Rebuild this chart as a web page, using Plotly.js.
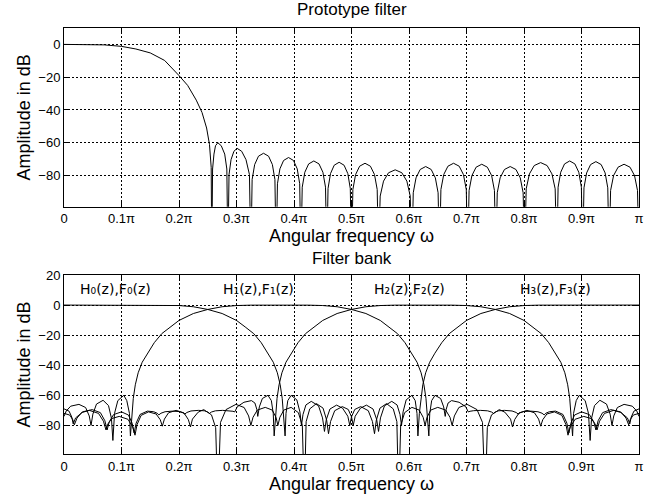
<!DOCTYPE html>
<html><head><meta charset="utf-8">
<script src="https://cdn.plot.ly/plotly-3.0.1.min.js"></script>
<style>html,body{margin:0;padding:0;background:#fff}#chart{width:666px;height:501px}</style>
</head><body><div id="chart"></div>
<script>
// x values are in units of pi (0 .. 1 means 0 .. pi)
const xTickVals = [0,0.1,0.2,0.3,0.4,0.5,0.6,0.7,0.8,0.9,1];
const xTickText = ['0','0.1\u03c0','0.2\u03c0','0.3\u03c0','0.4\u03c0','0.5\u03c0','0.6\u03c0','0.7\u03c0','0.8\u03c0','0.9\u03c0','\u03c0'];
const yTickValsTop = [-80,-60,-40,-20,0];
const yTickValsBank = [-80,-60,-40,-20,0,20];

// Prototype filter (top)
const protoX = [0,0.04,0.07,0.1,0.125,0.15,0.175,0.2,0.215,0.23,0.24,0.248,0.253,0.256,0.257,
0.2584,0.2608,0.2635,0.2675,0.2735,0.2795,0.2832,0.285,
0.287,0.2905,0.2955,0.301,0.309,0.3165,0.3225,0.325,
0.3272,0.3316,0.3382,0.347,0.3558,0.3624,0.3668,0.369,
0.3712,0.3755,0.3819,0.3905,0.3991,0.4056,0.4099,0.412,
0.4143,0.4188,0.4255,0.4345,0.4435,0.4503,0.4548,0.457,
0.4592,0.4635,0.4699,0.4785,0.4871,0.4936,0.4979,0.5,
0.5024,0.5071,0.5141,0.5235,0.5329,0.54,0.5447,0.547,
0.5499,0.5557,0.5644,0.576,0.5876,0.5963,0.6021,0.605,
0.6074,0.6122,0.6194,0.629,0.6386,0.6458,0.6506,0.653,
0.6555,0.6604,0.6677,0.6775,0.6873,0.6947,0.6996,0.702,
0.7045,0.7094,0.7167,0.7265,0.7363,0.7437,0.7486,0.751,
0.7535,0.7585,0.766,0.776,0.786,0.7935,0.7985,0.801,
0.8038,0.8094,0.8178,0.829,0.8402,0.8486,0.8542,0.857,
0.8593,0.8638,0.8705,0.8795,0.8885,0.8953,0.8998,0.902,
0.9043,0.9089,0.9158,0.925,0.9342,0.9411,0.9457,0.948,
0.9506,0.9558,0.9636,0.974,0.9844,0.9922,0.9974,1];
const protoY = [0,-0.05,-0.3,-1.2,-2.8,-5.2,-9.8,-19,-25,-34,-41.5,-51,-61,-75,-130,
-76,-66.9,-61.8,-60,-61.8,-66.9,-76,-130,
-79.4,-70.3,-65.2,-63.4,-65.2,-70.3,-79.4,-130,
-82.4,-73.3,-68.2,-66.4,-68.2,-73.3,-82.4,-130,
-85,-75.9,-70.8,-69,-70.8,-75.9,-85,-130,
-87.1,-78,-72.9,-71.1,-72.9,-78,-87.1,-130,
-87.9,-78.8,-73.7,-71.9,-73.7,-78.8,-87.9,-130,
-88.5,-79.4,-74.3,-72.5,-74.3,-79.4,-88.5,-130,
-92.5,-83.4,-78.3,-76.5,-78.3,-83.4,-92.5,-130,
-90.5,-81.4,-76.3,-74.5,-76.3,-81.4,-90.5,-130,
-88.5,-79.4,-74.3,-72.5,-74.3,-79.4,-88.5,-130,
-89.1,-80,-74.9,-73.1,-74.9,-80,-89.1,-130,
-90.5,-81.4,-76.3,-74.5,-76.3,-81.4,-90.5,-130,
-88.1,-79,-73.9,-72.1,-73.9,-79,-88.1,-130,
-87.1,-78,-72.9,-71.1,-72.9,-78,-87.1,-130,
-87.5,-78.4,-73.3,-71.5,-73.3,-78.4,-87.5,-130,
-89.1,-80,-74.9,-73.1,-74.9,-80,-89.1,-130];

// Filter bank (bottom): H0..H3
const h0X = [0,0.1,0.15,0.175,0.2,0.225,0.25,0.275,0.3,0.315,0.33,0.343,0.355,0.364,0.371,0.376,0.3795,0.382,0.3845,
0.3861,0.3892,0.395,0.4049,0.4103,0.413,
0.4156,0.4207,0.43,0.4427,0.4496,0.453,
0.4562,0.4625,0.474,0.4844,0.4936,0.497,
0.4999,0.5056,0.516,0.5292,0.5364,0.54,
0.5432,0.5495,0.561,0.5726,0.5789,0.582,
0.5855,0.5924,0.605,0.6177,0.6246,0.628,
0.6313,0.6379,0.65,0.6638,0.6713,0.675,
0.6789,0.6867,0.701,0.7183,0.7278,0.7325,
0.7362,0.7435,0.757,0.7667,0.7766,0.78,
0.7838,0.7913,0.805,0.8182,0.8254,0.829,
0.8326,0.8398,0.853,0.8659,0.873,0.8765,
0.8806,0.8889,0.904,0.9167,0.9236,0.927,
0.9314,0.94,0.956,0.9686,0.9798,0.984,
0.9864,0.9912,1];
const h0Y = [0,0,0,-0.05,-0.3,-1.1,-2.9,-5.6,-10.2,-14.5,-19,-25,-32,-38,-45,-53,-62,-72,-87,
-72,-63.5,-60,-63,-71,-80,
-72.8,-66.4,-64,-67,-75,-84,
-76.1,-69.1,-66.5,-68.5,-73.9,-80,
-74.4,-69.4,-67.5,-70.2,-77.4,-85.5,
-76.5,-68.5,-65.5,-69,-77.5,-130,
-80,-71.5,-68,-69.8,-74.6,-80,
-74.6,-69.8,-68,-69.8,-74.6,-80,
-73.7,-68.1,-66,-69.5,-78,-130,
-81.5,-73,-69.5,-71.2,-75.8,-81,
-76.1,-71.7,-70,-71.6,-75.8,-80.5,
-76.2,-72.4,-71,-73.3,-79.5,-86.5,
-80.9,-75.9,-74,-75.4,-79,-83,
-77.2,-72,-70,-71.4,-75,-79,
-74.5,-70.5,-69];

const h1X = [0,0.0039,0.0117,0.026,0.0376,0.0439,0.047,
0.0502,0.0565,0.068,0.0774,0.0825,0.085,
0.0879,0.0936,0.104,0.1092,0.1138,0.1155,
0.118,0.1205,0.124,0.129,0.136,0.145,0.157,0.17,0.185,0.2,0.225,0.25,0.275,0.3,0.325,0.35,0.4,0.425,0.45,0.475,0.5,0.525,0.55,0.565,0.58,0.593,0.605,0.614,0.621,0.626,0.6295,0.632,0.6345,
0.6361,0.6394,0.6453,0.655,0.6603,0.663,
0.6647,0.668,0.674,0.6871,0.6987,0.703,
0.7062,0.7125,0.724,0.7367,0.7436,0.747,
0.7499,0.7556,0.766,0.7792,0.7864,0.79,
0.7932,0.7995,0.811,0.8242,0.8314,0.835,
0.838,0.844,0.855,0.8677,0.8746,0.878,
0.8813,0.8879,0.9,0.9138,0.9213,0.925,
0.9289,0.9367,0.951,0.968,0.9774,0.982,
0.9847,0.9901,1];
const h1Y = [-74,-70.4,-67.2,-66,-68.1,-73.7,-80,
-72.5,-65.8,-63.3,-66.8,-75.3,-90,
-72,-63.5,-60,-63.5,-72,-87,
-72,-62,-53,-45,-38,-32,-25,-19,-14.5,-10.2,-5.6,-2.9,-1.1,-0.3,-0.05,0,0,-0.05,-0.3,-1.1,-2.9,-5.6,-10.2,-14.5,-19,-25,-32,-38,-45,-53,-62,-72,-87,
-72,-63.5,-60,-62.1,-67.7,-74,
-69.3,-65.1,-63.5,-64.6,-67.6,-71,
-70.6,-70.2,-70,-70.3,-71.1,-72,
-71.1,-70.3,-70,-70.4,-71.4,-72.5,
-71.6,-70.8,-70.5,-70.9,-71.9,-73,
-71.9,-70.9,-70.5,-72.7,-78.5,-85,
-78.7,-73.1,-71,-72.8,-77.6,-83,
-76.9,-71.5,-69.5,-71,-75.1,-79.6,
-76.2,-73.1,-72];

const h2X = [0,0.0099,0.0153,0.018,0.0226,0.032,0.049,0.0633,0.0711,0.075,
0.0787,0.0862,0.1,0.1121,0.1187,0.122,0.1254,0.1323,0.145,0.156,
0.162,0.165,0.1686,0.1758,0.189,0.2005,0.2068,0.21,0.2136,0.2208,
0.234,0.2444,0.2501,0.253,0.2564,0.2633,0.276,0.2875,0.2938,0.297,
0.3013,0.3129,0.326,0.332,0.3353,0.337,0.3397,0.345,0.3547,0.3606,
0.3639,0.3655,0.368,0.3705,0.374,0.379,0.386,0.395,0.407,0.42,
0.435,0.45,0.475,0.5,0.525,0.55,0.575,0.6,0.65,0.675,
0.7,0.725,0.75,0.775,0.8,0.815,0.83,0.843,0.855,0.864,
0.871,0.876,0.8795,0.882,0.8845,0.8862,0.8908,0.896,0.9064,0.9121,
0.915,0.9175,0.9226,0.932,0.9435,0.9498,0.953,0.9561,0.9624,0.974,
0.9883,0.9961,1];
const h2Y = [-72,-73.1,-76.2,-79.6,-75.1,-71,-69.5,-71.5,-76.9,-83,
-77.6,-72.8,-71,-73.1,-78.7,-85,-78.5,-72.7,-70.5,-70.9,
-71.9,-73,-71.9,-70.9,-70.5,-70.8,-71.6,-72.5,-71.4,-70.4,
-70,-70.3,-71.1,-72,-71.1,-70.3,-70,-70.2,-70.6,-71,
-67.6,-64.6,-63.5,-65.1,-69.3,-74,-67.7,-62.1,-60,-63.5,
-72,-87,-72,-62,-53,-45,-38,-32,-25,-19,
-14.5,-10.2,-5.6,-2.9,-1.1,-0.3,-0.05,0,0,-0.05,
-0.3,-1.1,-2.9,-5.6,-10.2,-14.5,-19,-25,-32,-38,
-45,-53,-62,-72,-87,-72,-63.5,-60,-63.5,-72,
-90,-75.3,-66.8,-63.3,-65.8,-72.5,-80,-73.7,-68.1,-66,
-67.2,-70.4,-74];

const h3X = [0,0.0088,0.0136,0.016,0.0202,0.0314,0.044,0.06,0.0686,0.073,
0.0764,0.0833,0.096,0.1111,0.1194,0.1235,0.127,0.1341,0.147,0.1602,
0.1674,0.171,0.1746,0.1818,0.195,0.2087,0.2162,0.22,0.2234,0.2333,
0.243,0.2565,0.2638,0.2675,0.2722,0.2817,0.299,0.3133,0.3211,0.325,
0.3287,0.3362,0.35,0.3621,0.3687,0.372,0.3754,0.3823,0.395,0.4076,
0.4145,0.418,0.4211,0.4274,0.439,0.4505,0.4568,0.46,0.4636,0.4708,
0.484,0.4944,0.5001,0.503,0.5064,0.5156,0.526,0.5375,0.5438,0.547,
0.5504,0.5573,0.57,0.5793,0.5844,0.587,0.5897,0.5951,0.605,0.6108,
0.6139,0.6155,0.618,0.6205,0.624,0.629,0.636,0.645,0.657,0.67,
0.685,0.7,0.725,0.75,0.775,0.8,0.825,0.85,0.9,1];
const h3Y = [-69,-70.5,-74.5,-79,-75,-71.4,-70,-72,-77.2,-83,
-79,-75.4,-74,-75.9,-80.9,-86.5,-79.5,-73.3,-71,-72.4,
-76.2,-80.5,-75.8,-71.6,-70,-71.7,-76.1,-81,-75.8,-71.2,
-69.5,-73,-81.5,-130,-78,-69.5,-66,-68.1,-73.7,-80,
-74.6,-69.8,-68,-69.8,-74.6,-80,-74.6,-69.8,-68,-71.5,
-80,-130,-77.5,-69,-65.5,-68.5,-76.5,-85.5,-77.4,-70.2,
-67.5,-69.4,-74.4,-80,-73.9,-68.5,-66.5,-69.1,-76.1,-84,
-75,-67,-64,-66.4,-72.8,-80,-71,-63,-60,-63.5,
-72,-87,-72,-62,-53,-45,-38,-32,-25,-19,
-14.5,-10.2,-5.6,-2.9,-1.1,-0.3,-0.05,0,0,0];

const bankLabels = ['H\u2080(z),F\u2080(z)','H\u2081(z),F\u2081(z)','H\u2082(z),F\u2082(z)','H\u2083(z),F\u2083(z)'];
const bankLabelX = [0.09,0.339,0.6,0.855];
const bankLabelY = 10.5;

const FONT = 'Liberation Sans, Arial, Helvetica, sans-serif';
const LABELFONT = 'DejaVu Sans, Liberation Sans, sans-serif';
const ln = {color:'#000', width:1};
const traces = [
  {x:protoX, y:protoY, xaxis:'x', yaxis:'y', mode:'lines', line:ln, hoverinfo:'skip'},
  {x:h0X, y:h0Y, xaxis:'x2', yaxis:'y2', mode:'lines', line:ln, hoverinfo:'skip'},
  {x:h1X, y:h1Y, xaxis:'x2', yaxis:'y2', mode:'lines', line:ln, hoverinfo:'skip'},
  {x:h2X, y:h2Y, xaxis:'x2', yaxis:'y2', mode:'lines', line:ln, hoverinfo:'skip'},
  {x:h3X, y:h3Y, xaxis:'x2', yaxis:'y2', mode:'lines', line:ln, hoverinfo:'skip'}
];

function xAxis(anchor){
  return {
    anchor: anchor, domain:[0,1], range:[0,1], tickmode:'array', tickvals:xTickVals, ticktext:xTickText,
    ticks:'inside', ticklen:5, tickwidth:1, tickcolor:'#000', mirror:'ticks', showline:true, linecolor:'#000', linewidth:1,
    showgrid:true, gridcolor:'#000', griddash:'2px,2px', gridwidth:1, zeroline:false,
    tickfont:{family:FONT, size:13, color:'#000'},
    title:{text:'Angular frequency \u03c9', font:{family:FONT, size:18, color:'#000'}, standoff:4}
  };
}
function yAxis(anchor, domain, range, vals){
  return {
    anchor: anchor, domain: domain, range: range, tickmode:'array', tickvals: vals,
    ticks:'inside', ticklen:5, tickwidth:1, tickcolor:'#000', mirror:'ticks', showline:true, linecolor:'#000', linewidth:1,
    showgrid:true, gridcolor:'#000', griddash:'2px,2px', gridwidth:1, zeroline:false,
    tickfont:{family:FONT, size:13, color:'#000'},
    title:{text:'Amplitude in dB', font:{family:FONT, size:18, color:'#000'}, standoff:3}
  };
}

const annotations = bankLabels.map((t,i)=>({
  text:t, x:bankLabelX[i], y:bankLabelY, xref:'x2', yref:'y2', showarrow:false,
  font:{family:LABELFONT, size:14, color:'#000'}, xanchor:'center', yanchor:'middle'
}));
annotations.push({text:'Prototype filter', x:0.5, y:1.0446, xref:'paper', yref:'paper', showarrow:false,
  font:{family:FONT, size:17, color:'#000'}, xanchor:'center', yanchor:'middle'});
annotations.push({text:'Filter bank', x:0.5, y:0.46, xref:'paper', yref:'paper', showarrow:false,
  font:{family:FONT, size:17, color:'#000'}, xanchor:'center', yanchor:'middle'});

const layout = {
  width:666, height:501, margin:{l:64, r:27, t:28, b:47},
  paper_bgcolor:'#fff', plot_bgcolor:'#fff', showlegend:false,
  font:{family:FONT, color:'#000'},
  xaxis: xAxis('y'), yaxis: yAxis('x', [0.5805,1], [-99,10], yTickValsTop),
  xaxis2: xAxis('y2'), yaxis2: yAxis('x2', [0,0.4202], [-99,20], yTickValsBank),
  annotations: annotations
};
Plotly.newPlot('chart', traces, layout, {staticPlot:true, displayModeBar:false});
</script>
</body></html>
